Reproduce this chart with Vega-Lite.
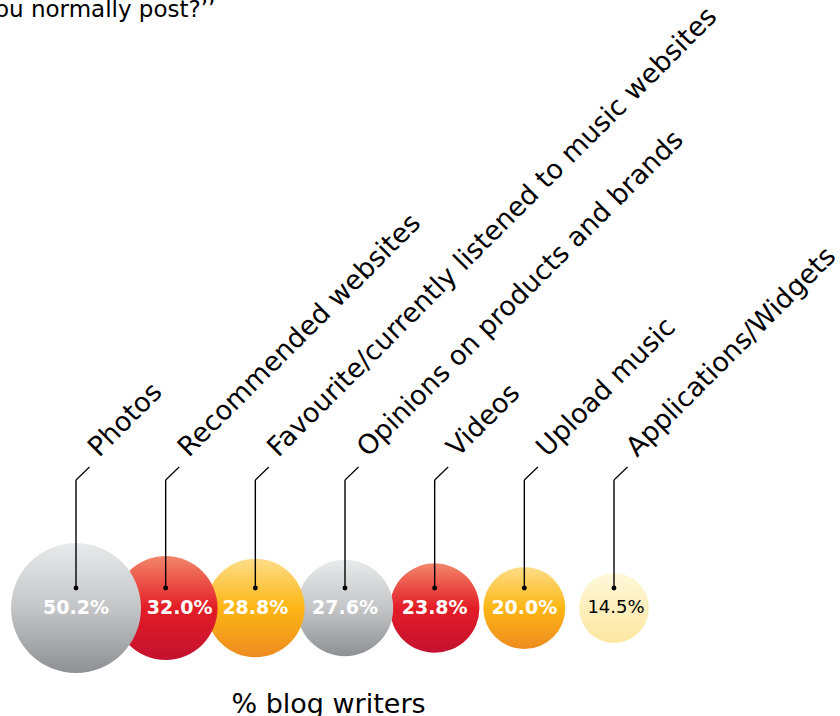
{
  "$schema": "https://vega.github.io/schema/vega-lite/v6.json",
  "width": 840,
  "height": 716,
  "autosize": {"type": "none"},
  "padding": 0,
  "background": "white",
  "config": {"view": {"stroke": null}, "font": "DejaVu Sans"},
  "title": {"text": "ou normally post?’’", "anchor": "start", "frame": "group", "offset": 0, "dx": -5, "dy": 40, "fontSize": 23, "fontWeight": "normal", "color": "black", "baseline": "alphabetic"},
  "data": {"values": [
    {"item": "Photos", "value": 50.2},
    {"item": "Recommended websites", "value": 32.0},
    {"item": "Favourite/currently listened to music websites", "value": 28.8},
    {"item": "Opinions on products and brands", "value": 27.6},
    {"item": "Videos", "value": 23.8},
    {"item": "Upload music", "value": 20.0},
    {"item": "Applications/Widgets", "value": 14.5}
  ]},
  "transform": [{"calculate": "format(datum.value, '.1f') + '%'", "as": "pct"}],
  "encoding": {
    "x": {"field": "item", "type": "nominal", "sort": null,
      "scale": {"type": "point", "range": [76, 614], "padding": 0},
      "axis": {"orient": "bottom", "domain": false, "ticks": false, "labels": false, "grid": false,
        "title": "% blog writers", "titleFontSize": 27, "titleFontWeight": "normal", "titleColor": "black",
        "titleX": 328, "titleY": -4, "titleBaseline": "alphabetic", "titleAlign": "center", "titleAngle": 0}}
  },
  "layer": [
    {
      "mark": {"type": "point", "filled": true, "opacity": 1, "strokeWidth": 0},
      "encoding": {
        "y": {"datum": 608, "type": "quantitative", "scale": {"domain": [0, 716], "range": [0, 716]}, "axis": null},
        "size": {"field": "value", "type": "quantitative", "scale": {"type": "linear", "domain": [0, 50.2], "range": [0, 16900]}, "legend": null},
        "order": {"field": "value", "sort": "ascending"},
        "fill": {
          "condition": [
            {"test": "datum.item === 'Photos' || datum.item === 'Opinions on products and brands'",
             "value": {"gradient": "linear", "x1": 0, "y1": 0, "x2": 0, "y2": 1, "stops": [{"offset": 0, "color": "#e9eaeb"}, {"offset": 0.5, "color": "#c4c5c7"}, {"offset": 1, "color": "#8f9094"}]}},
            {"test": "datum.item === 'Recommended websites' || datum.item === 'Videos'",
             "value": {"gradient": "linear", "x1": 0, "y1": 0, "x2": 0, "y2": 1, "stops": [{"offset": 0, "color": "#f3876a"}, {"offset": 0.5, "color": "#e31d27"}, {"offset": 1, "color": "#c4112f"}]}},
            {"test": "datum.item === 'Favourite/currently listened to music websites' || datum.item === 'Upload music'",
             "value": {"gradient": "linear", "x1": 0, "y1": 0, "x2": 0, "y2": 1, "stops": [{"offset": 0, "color": "#fedd88"}, {"offset": 0.5, "color": "#fcb614"}, {"offset": 1, "color": "#ee8b20"}]}}
          ],
          "value": {"gradient": "linear", "x1": 0, "y1": 0, "x2": 0, "y2": 1, "stops": [{"offset": 0, "color": "#fff8da"}, {"offset": 1, "color": "#fde6a0"}]}
        }
      }
    },
    {
      "mark": {"type": "rule", "color": "black", "strokeWidth": 1.4},
      "encoding": {
        "y": {"datum": 588, "type": "quantitative", "scale": {"domain": [0, 716], "range": [0, 716]}, "axis": null},
        "y2": {"datum": 480}
      }
    },
    {
      "mark": {"type": "rule", "color": "black", "strokeWidth": 1.2, "x2Offset": 13.5},
      "encoding": {
        "x2": {"field": "item"},
        "y": {"datum": 480, "type": "quantitative", "scale": {"domain": [0, 716], "range": [0, 716]}, "axis": null},
        "y2": {"datum": 467}
      }
    },
    {
      "mark": {"type": "point", "filled": true, "color": "black", "opacity": 1, "size": 24, "strokeWidth": 0},
      "encoding": {
        "y": {"datum": 588, "type": "quantitative", "scale": {"domain": [0, 716], "range": [0, 716]}, "axis": null}
      }
    },
    {
      "mark": {"type": "text", "angle": 315, "align": "left", "baseline": "alphabetic", "fontSize": 27, "color": "black", "xOffset": 23},
      "encoding": {
        "y": {"datum": 458, "type": "quantitative", "scale": {"domain": [0, 716], "range": [0, 716]}, "axis": null},
        "text": {"field": "item"}
      }
    },
    {
      "transform": [{"filter": "datum.item !== 'Recommended websites' && datum.item !== 'Applications/Widgets'"}],
      "mark": {"type": "text", "align": "center", "baseline": "middle", "fontSize": 19, "fontWeight": "bold", "color": "white"},
      "encoding": {
        "y": {"datum": 608, "type": "quantitative", "scale": {"domain": [0, 716], "range": [0, 716]}, "axis": null},
        "text": {"field": "pct"}
      }
    },
    {
      "transform": [{"filter": "datum.item === 'Recommended websites'"}],
      "mark": {"type": "text", "align": "center", "baseline": "middle", "fontSize": 19, "fontWeight": "bold", "color": "white", "dx": 14},
      "encoding": {
        "y": {"datum": 608, "type": "quantitative", "scale": {"domain": [0, 716], "range": [0, 716]}, "axis": null},
        "text": {"field": "pct"}
      }
    },
    {
      "transform": [{"filter": "datum.item === 'Applications/Widgets'"}],
      "mark": {"type": "text", "align": "center", "baseline": "middle", "fontSize": 18, "fontWeight": "normal", "color": "black", "dx": 2},
      "encoding": {
        "y": {"datum": 608, "type": "quantitative", "scale": {"domain": [0, 716], "range": [0, 716]}, "axis": null},
        "text": {"field": "pct"}
      }
    }
  ]
}
